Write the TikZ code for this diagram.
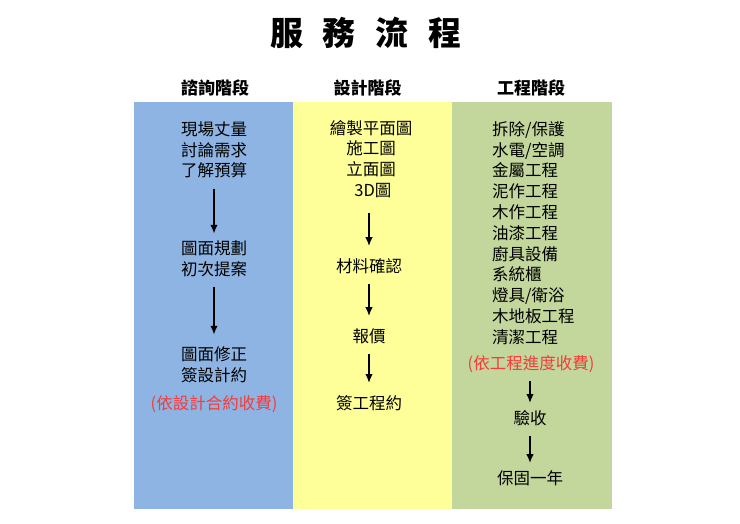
\documentclass[tikz,border=0pt]{standalone}
\usepackage{fontspec}
\setmainfont{Noto Sans CJK TC}
\usetikzlibrary{arrows.meta}
\definecolor{consultblue}{HTML}{8DB4E2}
\definecolor{designyellow}{HTML}{FFFF99}
\definecolor{buildgreen}{HTML}{C3D69B}
\definecolor{feered}{HTML}{F53B3B}

\begin{document}
\begin{tikzpicture}[x=1pt,y=-1pt,
  item/.style={inner sep=0pt, align=center, font=\fontsize{16.5}{20.8}\selectfont},
  fee/.style={item, text=feered},
  phase/.style={inner sep=0pt, font=\fontsize{17}{20}\selectfont\bfseries},
  flow/.style={-{Latex[length=9pt,width=7.5pt]}, line width=1.9pt, shorten <=10pt, shorten >=12pt}]
  \useasboundingbox (0,0) rectangle (740,523);
  % column backgrounds
  \fill[consultblue] (133.5,101.5) rectangle (292.7,508.7);
  \fill[designyellow] (292.7,101.5) rectangle (452.3,508.7);
  \fill[buildgreen] (452.3,101.5) rectangle (611.7,508.7);
  % title and phase headers
  \node[inner sep=0pt, font=\fontsize{33}{36}\selectfont\bfseries] (title) at (366,33)
    {服\hspace{20pt}務\hspace{20pt}流\hspace{20pt}程};
  \node[phase] (h1) at (215,88) {諮詢階段};
  \node[phase] (h2) at (367.5,88) {設計階段};
  \node[phase] (h3) at (531,88) {工程階段};
  % consulting
  \node[item] (a1) at (214,150) {現場丈量\\討論需求\\了解預算};
  \node[item] (a2) at (214,259) {圖面規劃\\初次提案};
  \node[item] (a3) at (214,365) {圖面修正\\簽設計約};
  \node[fee] (a4) at (214,404) {(依設計合約收費)};
  \draw[flow, shorten >=7pt] (a1) -- (a2);
  \draw[flow] (a2) -- (a3);
  % design
  \node[item] (d1) at (371,159) {繪製平面圖\\施工圖\\立面圖\\\ 3D圖};
  \node[item] (d2) at (369,266) {材料確認};
  \node[item] (d3) at (369,336) {報價};
  \node[item] (d4) at (369,403) {簽工程約};
  \draw[flow, shorten <=15pt] (d1.south -| d2) -- (d2);
  \draw[flow] (d2) -- (d3);
  \draw[flow] (d3) -- (d4);
  % construction
  \node[item, align=left, anchor=west] (g1) at (492,233)
    {拆除/保護\\水電/空調\\金屬工程\\泥作工程\\木作工程\\油漆工程\\廚具設備\\系統櫃\\燈具/衛浴\\木地板工程\\清潔工程};
  \node[fee] (g2) at (531,364) {(依工程進度收費)};
  \node[item] (g3) at (530,418) {驗收};
  \node[item] (g4) at (530,478) {保固一年};
  \draw[flow, shorten <=8pt, shorten >=7pt] (g2.south -| g3) -- (g3);
  \draw[flow, shorten >=7pt] (g3) -- (g4);
\end{tikzpicture}
\end{document}
